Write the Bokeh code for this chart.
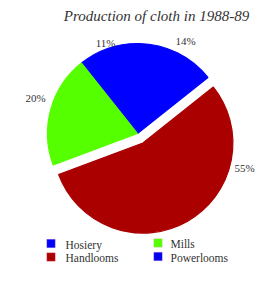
import math
from bokeh.plotting import figure
from bokeh.models import Range1d
from bokeh.core.properties import value
from bokeh.embed import file_html
from bokeh.resources import INLINE

# ---- data ----
title = "Production of cloth in 1988-89"
categories = ["Powerlooms", "Hosiery", "Mills", "Handlooms"]
shares = [14, 11, 20, 55]
colors = ["#0000ff", "#0000ff", "#55ff00", "#aa0000"]
labels = ["14%", "11%", "20%", "55%"]
legend_order = ["Hosiery", "Mills", "Handlooms", "Powerlooms"]
legend_colors = ["#0000ff", "#55ff00", "#aa0000", "#0000ee"]

# ---- layout ----
W, H = 256, 266
def X(px): return px
def Y(py): return 282 - py

FONT = value("Times New Roman")
cx, cy, R = 137, 133, 90
start = 38.5
explode = {"Handlooms": 11}
label_ang = [62.7, 109.4, 160.6, -18.1]
label_r = [104.6, 96, 108, 112.6]

p = figure(width=W, height=H, output_backend="svg", toolbar_location=None,
           x_range=Range1d(0, W), y_range=Range1d(282 - H, 282),
           min_border=0, outline_line_color=None)
p.axis.visible = False
p.grid.visible = False
p.background_fill_color = "white"
p.border_fill_color = "white"

total = sum(shares)
a = start
for cat, s, col in zip(categories, shares, colors):
    span = 360.0 * s / total
    mid = math.radians(a + span / 2)
    off = explode.get(cat, 0)
    ox = cx + off * math.cos(mid)
    oy = cy - off * math.sin(mid)
    p.wedge(x=X(ox), y=Y(oy), radius=R, start_angle=math.radians(a),
            end_angle=math.radians(a + span),
            fill_color=col, line_color=col, line_width=1.2)
    a += span

for lab, ang, r in zip(labels, label_ang, label_r):
    lx = cx + r * math.cos(math.radians(ang))
    ly = cy - r * math.sin(math.radians(ang))
    p.text(x=[X(lx)], y=[Y(ly)], text=[lab], text_align="center",
           text_baseline="middle", text_font=FONT,
           text_font_size="11px", text_color="#333333")

p.text(x=[X(156)], y=[Y(15)], text=[title], text_align="center",
       text_baseline="middle", text_font=FONT,
       text_font_style="italic", text_font_size="15px", text_color="#333333")

# legend
sq_pos = [(50.5, 243), (157.5, 242.5), (50.5, 256.5), (157.5, 256)]
tx_pos = [(65, 244), (170, 243.5), (65, 257.5), (170, 257)]
for name, col, (sx, sy), (tx, ty) in zip(legend_order, legend_colors, sq_pos, tx_pos):
    p.rect(x=[X(sx)], y=[Y(sy)], width=8.5, height=8.5, fill_color=col,
           line_color="#ff99cc", line_alpha=0.4, line_width=0.6)
    p.text(x=[X(tx)], y=[Y(ty)], text=[name], text_align="left",
           text_baseline="middle", text_font=FONT,
           text_font_size="11.5px", text_color="#333333")

open("out.html", "w").write(file_html(p, INLINE))
